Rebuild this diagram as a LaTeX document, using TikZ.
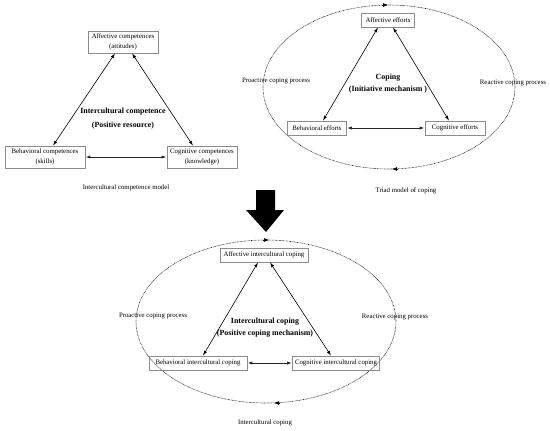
\documentclass[tikz,border=0pt]{standalone}
\usepackage{fontspec}
\setmainfont{Liberation Serif}
\usetikzlibrary{arrows.meta}
\begin{document}
\begin{tikzpicture}[x=1pt,y=-1pt,
  every node/.style={font=\fontsize{6.8}{10.5}\selectfont, inner sep=0pt},
  box/.style={draw=black!45, line width=0.7pt, minimum height=14pt, align=center},
  bigbox/.style={box, minimum height=22pt},
  title/.style={font=\fontsize{7.9}{12}\selectfont\bfseries, align=center},
  link/.style={{Latex[length=5pt,width=3.2pt]}-{Latex[length=5pt,width=3.2pt]}, line width=0.6pt},
  hlink/.style={link, line width=1pt, black!85},
  loop/.style={dash pattern=on 0.7pt off 0.7pt, line width=0.6pt, black!85},
  loopmark/.style={-{Latex[length=5pt,width=3.8pt]}, line width=0.6pt}
]
\useasboundingbox (0,0) rectangle (550,431);

% ---------- Panel 1 ----------
\node[bigbox, minimum width=70pt] (aff1) at (123,42) {Affective competences\\(attitudes)};
\node[bigbox, minimum width=80pt] (beh1) at (45,157) {Behavioral competences\\(skills)};
\node[bigbox, minimum width=70pt] (cog1) at (202,157) {Cognitive competences\\(knowledge)};
\node[title, font=\fontsize{7.9}{14}\selectfont\bfseries] (t1) at (123,119) {Intercultural competence\\(Positive resource)};
\node (c1) at (126,188) {Intercultural competence model};
\draw[link] ([xshift=-8pt]aff1.south) -- ([xshift=8pt]beh1.north);
\draw[link] ([xshift=9pt]aff1.south) -- ([xshift=-9pt]cog1.north);
\draw[hlink] (beh1) -- (cog1);

% ---------- Panel 2 ----------
\draw[loop] (389,87) ellipse [x radius=126, y radius=82];
\coordinate (m2a) at (382,5);
\coordinate (m2b) at (388,5);
\coordinate (m2c) at (398,169);
\coordinate (m2d) at (392,169);
\draw[loopmark] (m2a) -- (m2b);
\draw[loopmark] (m2c) -- (m2d);
\node[box, minimum width=53pt] (aff2) at (388,20) {Affective efforts};
\node[box, minimum width=59pt] (beh2) at (317,128) {Behavioral efforts};
\node[box, minimum width=60pt] (cog2) at (455,128) {Cognitive efforts};
\node[title] (t2) at (388,84) {Coping\\(Initiative mechanism )};
\node (p2) at (276,81) {Proactive coping process};
\node (r2) at (513,83) {Reactive coping process};
\node (c2) at (406,191) {Triad model of coping};
\draw[link] ([xshift=-10pt]aff2.south) -- ([xshift=6pt]beh2.north);
\draw[link] ([xshift=5pt]aff2.south) -- ([xshift=-6pt]cog2.north);
\draw[hlink] (beh2) -- (cog2);

% ---------- Big arrow ----------
\fill[black] (256,190) -- (275,190) -- (275,210) -- (284,210) -- (266,232) -- (246,210) -- (256,210) -- cycle;

% ---------- Panel 3 ----------
\draw[loop] (266,321.5) ellipse [x radius=130, y radius=81.5];
\coordinate (m3a) at (263,240);
\coordinate (m3b) at (269,240);
\coordinate (m3c) at (280,403);
\coordinate (m3d) at (274,403);
\draw[loopmark] (m3a) -- (m3b);
\draw[loopmark] (m3c) -- (m3d);
\node[box, minimum width=88pt] (aff3) at (264,255) {Affective intercultural coping};
\node[box, minimum width=98pt] (beh3) at (198,363) {Behavioral intercultural coping};
\node[box, minimum width=87pt] (cog3) at (336,363) {Cognitive intercultural coping};
\node[title] (t3) at (265,328) {Intercultural coping\\(Positive coping mechanism)};
\node (p3) at (153,316) {Proactive coping process};
\node (r3) at (395,317) {Reactive coping process};
\node (c3) at (265,423) {Intercultural coping};
\draw[link] ([xshift=-6pt]aff3.south) -- ([xshift=5pt]beh3.north);
\draw[link] ([xshift=6pt]aff3.south) -- ([xshift=-5pt]cog3.north);
\draw[hlink] (beh3) -- (cog3);
\end{tikzpicture}
\end{document}
